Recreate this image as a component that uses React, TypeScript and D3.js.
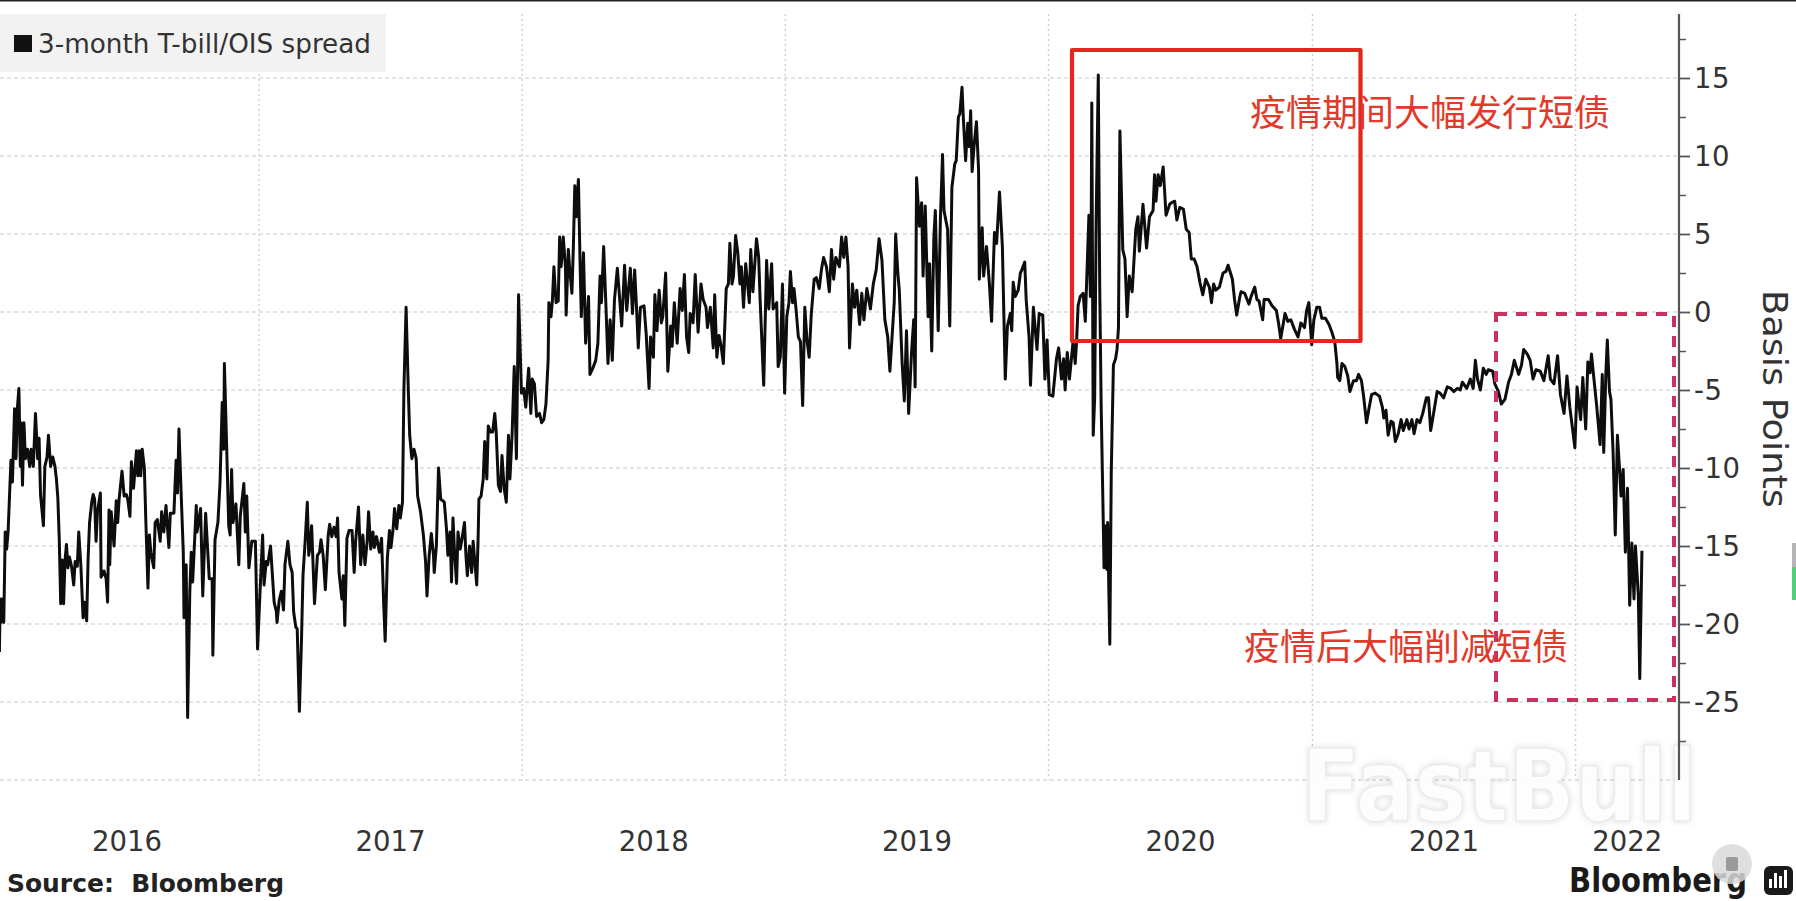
import { useEffect, useRef } from "react"
import * as d3 from "d3"

// each point is [day of the year, spread in basis points]
const spread2016: [number, number][] = [
  [6,-21.8],[7,-18.4],[8,-19.9],[10,-18.4],[12,-19.9],[13,-17.1],[14,-14.1],[16,-15.2],[18,-14.1],[20,-11.8],[22,-9.5],[24,-10.9],[25,-9.4],[27,-6.2],[29,-9.4],[31,-6.1],[33,-4.9],[35,-9.9],[36,-7.1],[38,-11.1],[40,-7.1],[42,-9.4],[45,-8.8],[48,-9.9],[50,-8.8],[53,-9.9],[56,-6.5],[59,-9.4],[61,-8.1],[63,-11.7],[67,-13.7],[69,-9.9],[72,-9.3],[74,-7.9],[77,-9.9],[80,-9.3],[83,-9.9],[85,-10.7],[87,-11.9],[89,-14.6],[91,-18.7],[93,-15.9],[95,-18.7],[97,-15.9],[99,-14.9],[101,-16.4],[103,-15.7],[106,-16.3],[109,-17.5],[111,-16],[114,-16.3],[116,-14.1],[119,-16.3],[122,-19.6],[124,-18.6],[127,-19.8],[129,-15.8],[131,-13.5],[134,-12.2],[136,-11.7],[138,-12],[140,-14.7],[142,-12.8],[146,-11.6],[147,-17],[151,-16.6],[154,-17.1],[156,-18.6],[158,-12.7],[159,-16.2],[161,-12.8],[165,-15],[168,-12.1],[170,-13.5],[172,-12],[176,-10.2],[179,-11.8],[182,-11.7],[184,-12],[187,-13.1],[189,-9.6],[192,-11.3],[194,-10.1],[196,-8.9],[198,-10.5],[200,-8.9],[202,-10.5],[204,-8.8],[207,-10],[209,-13.3],[212,-17.7],[214,-14.3],[216,-15.4],[220,-16.4],[222,-13.5],[225,-13.3],[229,-14.7],[231,-12.8],[234,-14.1],[237,-12.4],[241,-15.1],[243,-12.9],[248,-12.9],[251,-9.5],[253,-11.6],[255,-7.5],[258,-11.6],[261,-15.4],[262,-19.6],[265,-16.2],[267,-26],[270,-18],[272,-15.4],[274,-17.3],[279,-12.4],[280,-14.1],[285,-12.6],[288,-18.2],[292,-12.9],[295,-15.4],[297,-17.1],[301,-17.1],[302,-22],[305,-14.6],[309,-13.5],[312,-10.9],[315,-5.8],[317,-8.8],[318,-3.3],[322,-10.1],[324,-13.7],[326,-14.3],[328,-10.1],[330,-13.5],[334,-12.3],[338,-16.2],[340,-13.1],[345,-11],[347,-14.1],[349,-11.8],[352,-16.4],[356,-14.7],[361,-14.7],[364,-21.6],
]
const spread2017: [number, number][] = [
  [1,-18.4],[5,-14.3],[7,-17.5],[10,-16],[12,-16.2],[16,-15],[21,-18.6],[24,-19.2],[25,-19.9],[28,-18.5],[31,-17.9],[34,-19.1],[36,-16.2],[40,-14.7],[43,-16.2],[46,-16.7],[48,-19.2],[51,-20.2],[53,-20.3],[56,-25.6],[59,-20.9],[61,-16.9],[64,-14.7],[67,-12.2],[69,-15.6],[71,-15],[73,-13.7],[77,-18.7],[81,-15.6],[84,-15.4],[86,-14.6],[89,-15.6],[92,-17.8],[96,-14.3],[98,-13.6],[101,-14.4],[104,-13.8],[107,-14.4],[109,-13.2],[111,-16.7],[115,-18.4],[117,-16.9],[119,-20.1],[122,-14.5],[125,-14],[129,-14],[132,-16.7],[134,-14.7],[138,-12.5],[141,-16.2],[144,-14.3],[147,-16.2],[150,-14.7],[152,-12.8],[155,-15.2],[158,-14.1],[160,-15.1],[163,-14.4],[167,-15.4],[170,-14.5],[173,-18.8],[175,-21.1],[178,-15.8],[181,-14],[183,-15.1],[186,-13.9],[188,-12.6],[191,-13.9],[194,-12.4],[196,-13.2],[199,-12.2],[201,-4.9],[204,0.3],[207,-4.9],[209,-7.9],[212,-9.4],[215,-8.8],[218,-9.4],[220,-11.8],[224,-12.8],[228,-14.3],[231,-16],[233,-18.2],[236,-15.6],[239,-14.2],[242,-15.6],[243,-16.7],[246,-15],[249,-10],[252,-12],[255,-12.1],[257,-12.2],[260,-13.9],[262,-15.6],[265,-14.1],[267,-17.3],[269,-13.2],[271,-15.2],[274,-17.4],[276,-14.1],[279,-15.2],[281,-14.7],[285,-13.5],[287,-15.6],[289,-16.9],[292,-15],[295,-16.7],[297,-14.7],[302,-17.5],[304,-14.3],[305,-12],[308,-11.8],[311,-10.7],[313,-8.3],[316,-10.7],[318,-7.3],[321,-7.7],[324,-7.7],[327,-6.5],[329,-7.7],[332,-11.1],[335,-11.5],[337,-9.2],[340,-11.3],[343,-12.2],[346,-7.9],[348,-10.7],[351,-7.9],[354,-3.5],[357,-9.4],[360,1.1],[364,-5.2],
]
const spread2018: [number, number][] = [
  [2,-4.9],[5,-6.1],[9,-3.6],[12,-6.5],[14,-4.3],[17,-4.6],[20,-6.7],[24,-6.5],[27,-7.1],[30,-6.9],[33,-5.9],[36,-3.1],[37,0.6],[40,-0.3],[42,0.8],[44,2.9],[47,0.6],[50,0.7],[52,4.8],[54,2.9],[57,4.8],[60,2.9],[61,-0.2],[64,4],[66,2.7],[69,1.2],[71,4.2],[73,8.1],[75,6.1],[78,8.5],[80,3.8],[82,-0.3],[85,3.8],[88,-2],[92,1],[94,-4],[98,-3.6],[102,-3.1],[105,-2],[108,2.3],[110,0.6],[113,4.2],[116,0.6],[119,-3.3],[122,-0.5],[125,-3.1],[128,0.8],[132,2.8],[134,1.6],[138,-0.9],[142,3],[145,0.1],[147,1.2],[150,2.8],[153,-0.1],[156,2.7],[159,-0.1],[161,-2.3],[164,0.3],[169,0.4],[172,-1.4],[176,-4.9],[178,-1.6],[182,-2.9],[184,1.1],[187,-1.2],[190,1.4],[193,-0.7],[195,-0.3],[199,2.5],[202,-3.8],[206,-0.9],[208,-2.2],[211,0.6],[215,-2],[219,1.5],[222,0.1],[225,2.4],[228,-1.6],[231,-2.6],[233,-0.1],[237,-0.7],[240,2.4],[244,-1.3],[248,1.8],[251,0.8],[255,0.3],[257,-1],[261,0.3],[265,-2.3],[267,1.1],[270,-2.9],[273,-1.5],[276,-2.2],[279,-3.3],[283,1.5],[286,1.8],[288,4.4],[291,1.8],[293,2.3],[296,4.9],[299,3.8],[302,1.8],[304,2.9],[307,0.3],[310,3.1],[315,0.6],[317,4],[320,1.3],[325,4.7],[328,3.5],[330,0.8],[335,-4.7],[339,3.3],[342,0.2],[346,3.1],[348,0.2],[353,0.6],[355,-3.5],[358,-2.9],[361,1.8],[364,-5.2],
]
const spread2019: [number, number][] = [
  [2,-0.3],[5,0.6],[7,2.6],[10,0.6],[12,1.5],[15,0.1],[18,-1.6],[21,-1.9],[24,-6],[27,0.3],[30,-1.8],[33,-2.9],[36,-0.1],[40,2.1],[43,2.2],[47,1.5],[50,2.7],[53,3.5],[57,2.9],[61,1.3],[64,4],[67,2.1],[70,3.5],[75,2.9],[78,4.8],[81,3.5],[84,4.8],[87,2.9],[89,-2.3],[93,1.8],[96,0.3],[99,1.4],[103,-0.8],[106,1.2],[109,-0.5],[113,1.5],[118,0.2],[122,1.8],[126,2.7],[130,4.7],[134,3.3],[138,-0.5],[142,-1.6],[145,-3.8],[148,-1.6],[151,0.6],[153,5],[156,2.5],[158,1.4],[162,-3.3],[165,-5.7],[168,-1.2],[171,-6.5],[175,-2.6],[178,-0.5],[180,-4.8],[182,8.6],[186,5.5],[189,7],[191,2.3],[194,6.8],[198,-0.3],[200,3.1],[203,-2.5],[206,4.8],[208,6.5],[212,-1.2],[215,5.9],[218,10.1],[220,6.5],[225,5.3],[228,-0.9],[231,8],[235,9.5],[237,9.7],[240,12.5],[242,12.7],[245,14.4],[247,12.3],[250,9.7],[253,12.1],[255,10.6],[257,12.9],[259,9],[262,10.8],[265,12.2],[268,9.1],[269,2.1],[273,5.4],[275,2.3],[279,4.2],[283,1.8],[286,-0.6],[290,5.1],[293,4.4],[297,7.7],[301,4.2],[305,-4.3],[308,-0.9],[312,-0.1],[314,-1.2],[316,1.9],[319,1],[323,1.4],[326,2.5],[328,2.7],[332,3.2],[334,0.8],[338,-1.6],[340,-4.7],[344,0.3],[349,-2.4],[352,-0.1],[357,-0.2],[360,-4.3],[363,-1.8],
]
const spread2020: [number, number][] = [
  [1,-5.3],[6,-5.4],[11,-3],[14,-2.3],[18,-4.3],[21,-3],[23,-5],[26,-2.6],[29,-4.3],[34,-1.9],[37,-3.3],[39,-1.8],[41,0.4],[44,1],[48,1.2],[51,-0.6],[56,6.2],[58,1],[59,3.4],[60,13.4],[62,-7.9],[64,-5.5],[66,5.7],[69,15.2],[71,1.6],[73,-6],[76,-13.7],[77,-16.4],[78,-13.7],[79,-16.4],[80,-13.7],[81,-16.5],[82,-13.5],[85,-21.3],[87,-10.3],[90,-3.4],[93,-3],[95,-2.4],[97,-1],[99,11.6],[103,4],[106,3.4],[109,-0.3],[112,2.3],[116,1.3],[121,5.3],[124,6.1],[126,3.9],[131,6.9],[136,4.1],[140,6.1],[145,6.5],[147,8.8],[149,7.1],[152,8.8],[155,8.1],[159,9.3],[163,6.2],[168,6.9],[170,7],[175,7.1],[178,5.9],[182,6.7],[187,6.6],[191,5.3],[195,5.1],[198,3.4],[202,3.4],[206,2.9],[210,1.9],[214,1.1],[218,2.1],[223,1.6],[226,0.6],[229,1.8],[232,1.4],[237,1.6],[242,2.5],[246,2.6],[249,3],[253,2.4],[255,2.1],[258,0.8],[261,-0.2],[265,0.9],[267,1.3],[272,1.2],[278,0.5],[281,1],[286,1.6],[289,0.8],[292,0.7],[297,-0.5],[299,0.8],[305,0.8],[310,0.4],[316,0.1],[319,-0.7],[322,-1.7],[325,-0.9],[328,-0.1],[332,-0.6],[336,-0.5],[341,-1.1],[346,-1.6],[350,-0.7],[355,-1],[358,0.1],[361,0.6],[365,-2.1],
]
const spread2021: [number, number][] = [
  [2,-0.5],[6,0.3],[10,0.3],[13,-0.4],[18,-0.4],[23,-0.8],[27,-1.3],[31,-1.9],[34,-3.3],[35,-4.2],[38,-4.4],[41,-3.3],[45,-3.5],[49,-4.1],[52,-5.1],[57,-4.4],[61,-4.4],[64,-4],[68,-4.4],[71,-5.4],[75,-7.1],[78,-6.3],[82,-5.3],[87,-5.2],[93,-5.4],[97,-6.1],[99,-6.8],[102,-6.3],[105,-7.9],[109,-7],[112,-7.1],[115,-8.3],[119,-7.8],[123,-6.9],[126,-7.6],[131,-6.9],[134,-7.5],[138,-6.9],[141,-7.8],[145,-6.9],[149,-7.1],[153,-6.5],[158,-5.5],[161,-5.5],[164,-7.6],[168,-6.5],[173,-5.1],[177,-5.2],[182,-5.5],[187,-4.8],[192,-4.9],[196,-5.1],[201,-4.9],[205,-5],[208,-4.5],[214,-4.9],[219,-4.3],[223,-4.9],[226,-3.1],[229,-4.3],[233,-5],[237,-3.6],[241,-4],[244,-3.7],[250,-3.8],[253,-4.6],[258,-5.1],[262,-5.9],[267,-5.6],[272,-4.5],[276,-4],[280,-3.1],[286,-4],[290,-3.4],[293,-2.4],[298,-2.7],[302,-3.1],[306,-4.3],[310,-3.7],[316,-3.8],[321,-4.4],[327,-2.8],[330,-4.3],[335,-4.6],[340,-2.8],[344,-5.3],[349,-6.5],[353,-4.1],[357,-6.1],[364,-8.7],
]
const spread2022: [number, number][] = [
  [2,-4.8],[7,-6.9],[10,-4.2],[14,-7.5],[17,-3.2],[20,-3.9],[22,-2.7],[25,-4.1],[29,-5.9],[34,-8.5],[37,-4],[39,-9],[42,-3.9],[44,-1.8],[47,-5.1],[49,-5.6],[52,-9],[55,-14.3],[58,-7.9],[61,-10.1],[63,-11.8],[66,-10.1],[69,-15.4],[72,-11.3],[75,-18.8],[78,-14.8],[81,-18.4],[83,-15],[87,-18.2],[89,-23.5],[92,-15.3],
]

const years = [2016, 2017, 2018, 2019, 2020, 2021, 2022]
const seriesByYear = [spread2016, spread2017, spread2018, spread2019, spread2020, spread2021, spread2022]
const majorTicks = [15, 10, 5, 0, -5, -10, -15, -20, -25, -30]
const minorTicks = [17.5, 12.5, 7.5, 2.5, -2.5, -7.5, -12.5, -17.5, -22.5, -27.5]

const width = 1796
const height = 901
const plotTop = 14
const plotBottom = 780
const axisX = 1679
const latin = "'DejaVu Sans', sans-serif"
const cjk = "'Noto Sans CJK SC', sans-serif"

export default function App() {
  const svgRef = useRef<SVGSVGElement>(null)

  useEffect(() => {
    if (!svgRef.current) return
    const svg = d3.select(svgRef.current)
    svg.selectAll("*").remove()

    const x = d3
      .scaleTime()
      .domain([new Date(2017, 0, 1), new Date(2022, 0, 1)])
      .range([259, 1575.6])
    const y = d3.scaleLinear().domain([15, -30]).range([78, plotBottom])

    const points = years.flatMap((year, i) =>
      seriesByYear[i].map(([day, value]) => ({
        date: d3.timeDay.offset(new Date(year, 0, 1), day),
        value,
      }))
    )

    svg.append("rect").attr("width", width).attr("height", height).attr("fill", "#fff")
    svg.append("rect").attr("width", width).attr("height", 1.5).attr("fill", "#222")

    // Grid
    svg
      .append("g")
      .selectAll("line")
      .data(majorTicks)
      .enter()
      .append("line")
      .attr("x1", 0)
      .attr("x2", axisX)
      .attr("y1", (d) => y(d))
      .attr("y2", (d) => y(d))
      .attr("stroke", "#c9c9c9")
      .attr("stroke-width", 1.2)
      .attr("stroke-dasharray", "4 3")

    svg
      .append("g")
      .selectAll("line")
      .data(years.slice(1))
      .enter()
      .append("line")
      .attr("x1", (d) => x(new Date(d, 0, 1)))
      .attr("x2", (d) => x(new Date(d, 0, 1)))
      .attr("y1", plotTop)
      .attr("y2", plotBottom)
      .attr("stroke", "#cfcfcf")
      .attr("stroke-width", 1.4)
      .attr("stroke-dasharray", "2 3")

    // Legend
    svg.append("rect").attr("x", 0).attr("y", 14).attr("width", 386).attr("height", 58).attr("fill", "#f2f2f2")
    svg.append("rect").attr("x", 14).attr("y", 35).attr("width", 18).attr("height", 17).attr("fill", "#111")
    svg
      .append("text")
      .attr("x", 38)
      .attr("y", 53)
      .attr("font-family", latin)
      .attr("font-size", 26)
      .attr("fill", "#333")
      .attr("textLength", 333)
      .attr("lengthAdjust", "spacingAndGlyphs")
      .text("3-month T-bill/OIS spread")

    // Series
    const line = d3
      .line<{ date: Date; value: number }>()
      .x((d) => x(d.date))
      .y((d) => y(d.value))

    svg
      .append("path")
      .datum(points)
      .attr("d", line)
      .attr("fill", "none")
      .attr("stroke", "#0d0d0d")
      .attr("stroke-width", 3)
      .attr("stroke-linejoin", "round")

    // Watermark sits under the axis but over the grid
    svg
      .append("text")
      .attr("x", 1301)
      .attr("y", 821)
      .attr("font-family", latin)
      .attr("font-weight", "bold")
      .attr("font-size", 100)
      .attr("fill", "#fff")
      .attr("fill-opacity", 0.92)
      .attr("stroke", "#ececec")
      .attr("stroke-width", 1.5)
      .attr("textLength", 396)
      .attr("lengthAdjust", "spacingAndGlyphs")
      .style("filter", "drop-shadow(0 0 3px rgba(0,0,0,0.14))")
      .text("FastBull")

    // Right axis
    const minorAxis = svg.append("g").attr("transform", `translate(${axisX},0)`)
    minorAxis.call(d3.axisRight(y).tickValues(minorTicks).tickSize(7).tickFormat(() => ""))
    minorAxis.select(".domain").remove()
    minorAxis.selectAll("line").attr("stroke", "#555").attr("stroke-width", 1.5)

    const majorAxis = svg.append("g").attr("transform", `translate(${axisX},0)`)
    majorAxis.call(
      d3
        .axisRight(y)
        .tickValues(majorTicks.slice(0, -1))
        .tickSize(11)
        .tickPadding(4)
        .tickFormat((d) => String(d))
    )
    majorAxis.select(".domain").remove()
    majorAxis.selectAll("line").attr("stroke", "#555").attr("stroke-width", 1.8)
    majorAxis
      .selectAll("text")
      .attr("font-family", latin)
      .attr("font-size", 27.5)
      .attr("letter-spacing", 0.6)
      .attr("dy", "0.36em")
      .attr("fill", "#333")

    svg
      .append("line")
      .attr("x1", axisX)
      .attr("x2", axisX)
      .attr("y1", plotTop)
      .attr("y2", plotBottom)
      .attr("stroke", "#555")
      .attr("stroke-width", 2.2)

    svg
      .append("text")
      .attr("transform", "translate(1763,290) rotate(90)")
      .attr("font-family", latin)
      .attr("font-size", 33)
      .attr("fill", "#333")
      .attr("textLength", 218)
      .attr("lengthAdjust", "spacingAndGlyphs")
      .text("Basis Points")

    // Year labels sit in the middle of each year
    const axisEnd = x.invert(axisX)
    svg
      .append("g")
      .selectAll("text")
      .data(years)
      .enter()
      .append("text")
      .attr("x", (d) => {
        const start = new Date(d, 0, 1)
        const end = d === 2022 ? axisEnd : new Date(d + 1, 0, 1)
        return (x(start) + x(end)) / 2
      })
      .attr("y", 851)
      .attr("text-anchor", "middle")
      .attr("font-family", latin)
      .attr("font-size", 27.5)
      .attr("fill", "#333")
      .text((d) => d)

    // Hand-drawn annotations
    svg
      .append("rect")
      .attr("x", 1072)
      .attr("y", 50)
      .attr("width", 288.5)
      .attr("height", 291)
      .attr("fill", "none")
      .attr("stroke", "#e5261f")
      .attr("stroke-width", 4.2)
      .attr("stroke-linejoin", "round")
    svg
      .append("rect")
      .attr("x", 1496)
      .attr("y", 314)
      .attr("width", 178)
      .attr("height", 386)
      .attr("fill", "none")
      .attr("stroke", "#c9315f")
      .attr("stroke-width", 4)
      .attr("stroke-dasharray", "11 9")

    svg
      .append("text")
      .attr("x", 1250)
      .attr("y", 126)
      .attr("font-family", cjk)
      .attr("font-size", 36)
      .attr("fill", "#e23a2a")
      .text("疫情期间大幅发行短债")
    svg
      .append("text")
      .attr("x", 1244)
      .attr("y", 660)
      .attr("font-family", cjk)
      .attr("font-size", 36)
      .attr("fill", "#e23a2a")
      .text("疫情后大幅削减短债")

    // Footer
    svg
      .append("text")
      .attr("x", 7)
      .attr("y", 892)
      .attr("font-family", latin)
      .attr("font-weight", "bold")
      .attr("font-size", 24)
      .attr("fill", "#222")
      .attr("textLength", 277)
      .attr("lengthAdjust", "spacingAndGlyphs")
      .style("white-space", "pre")
      .text("Source:  Bloomberg")
    svg
      .append("text")
      .attr("x", 1569)
      .attr("y", 892)
      .attr("font-family", latin)
      .attr("font-weight", "bold")
      .attr("font-size", 33)
      .attr("fill", "#1a1a1a")
      .attr("textLength", 178)
      .attr("lengthAdjust", "spacingAndGlyphs")
      .text("Bloomberg")
    svg.append("rect").attr("x", 1764).attr("y", 866).attr("width", 29).attr("height", 29).attr("rx", 6).attr("fill", "#1a1a1a")
    svg
      .append("g")
      .selectAll("rect")
      .data([9, 15, 12, 18])
      .enter()
      .append("rect")
      .attr("x", (_, i) => 1769 + i * 5)
      .attr("y", (d) => 888 - d)
      .attr("width", 3)
      .attr("height", (d) => d)
      .attr("fill", "#fff")

    // Page furniture on top of the screenshot
    svg.append("circle").attr("cx", 1732).attr("cy", 864).attr("r", 20).attr("fill", "#d9d9d9").attr("fill-opacity", 0.85)
    svg.append("rect").attr("x", 1726).attr("y", 857).attr("width", 12).attr("height", 14).attr("rx", 2).attr("fill", "#9a9a9a")
    svg.append("rect").attr("x", 1792).attr("y", 543).attr("width", 4).attr("height", 24).attr("fill", "#b5b5b5")
    svg.append("rect").attr("x", 1792).attr("y", 567).attr("width", 4).attr("height", 33).attr("fill", "#4cd07a")
  }, [])

  return (
    <svg
      ref={svgRef}
      width={width}
      height={height}
      style={{ position: "absolute", left: 0, top: 0, display: "block" }}
    />
  )
}
